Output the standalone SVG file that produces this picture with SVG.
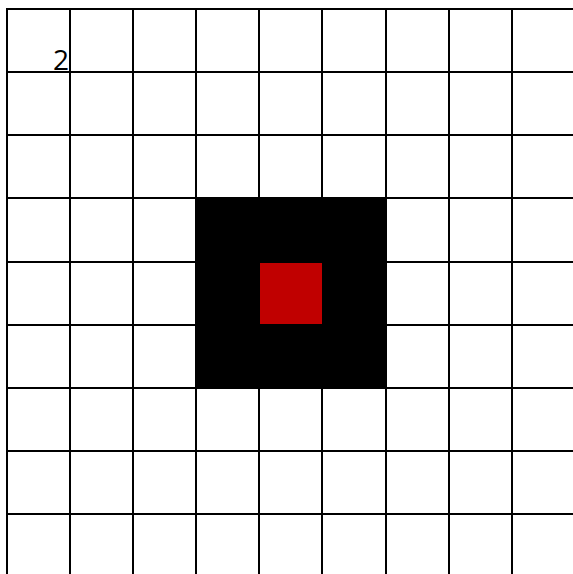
<svg xmlns="http://www.w3.org/2000/svg" width="573" height="574" viewBox="0 0 573 574">
<style>
.g line{stroke:#000;stroke-width:2}
.lbl{font-family:"Open Sans","Noto Sans",sans-serif;font-size:28px;fill:#000}
</style>
<rect width="573" height="574" fill="#fff"/>
<g id="grid" class="g">
<line x1="6" y1="9" x2="573" y2="9"/>
<line x1="6" y1="72" x2="573" y2="72"/>
<line x1="6" y1="135" x2="573" y2="135"/>
<line x1="6" y1="198" x2="573" y2="198"/>
<line x1="6" y1="262" x2="573" y2="262"/>
<line x1="6" y1="325" x2="573" y2="325"/>
<line x1="6" y1="388" x2="573" y2="388"/>
<line x1="6" y1="451" x2="573" y2="451"/>
<line x1="6" y1="514" x2="573" y2="514"/>
<line x1="7" y1="8" x2="7" y2="574"/>
<line x1="70" y1="8" x2="70" y2="574"/>
<line x1="133" y1="8" x2="133" y2="574"/>
<line x1="196" y1="8" x2="196" y2="574"/>
<line x1="259" y1="8" x2="259" y2="574"/>
<line x1="322" y1="8" x2="322" y2="574"/>
<line x1="386" y1="8" x2="386" y2="574"/>
<line x1="449" y1="8" x2="449" y2="574"/>
<line x1="512" y1="8" x2="512" y2="574"/>
</g>
<g id="block">
<rect x="195" y="198" width="192" height="190" fill="#000"/>
<rect x="260" y="263" width="62" height="61" fill="#c00000"/>
</g>
<g id="label">
<text class="lbl" x="53" y="70">2</text>
</g>
</svg>
